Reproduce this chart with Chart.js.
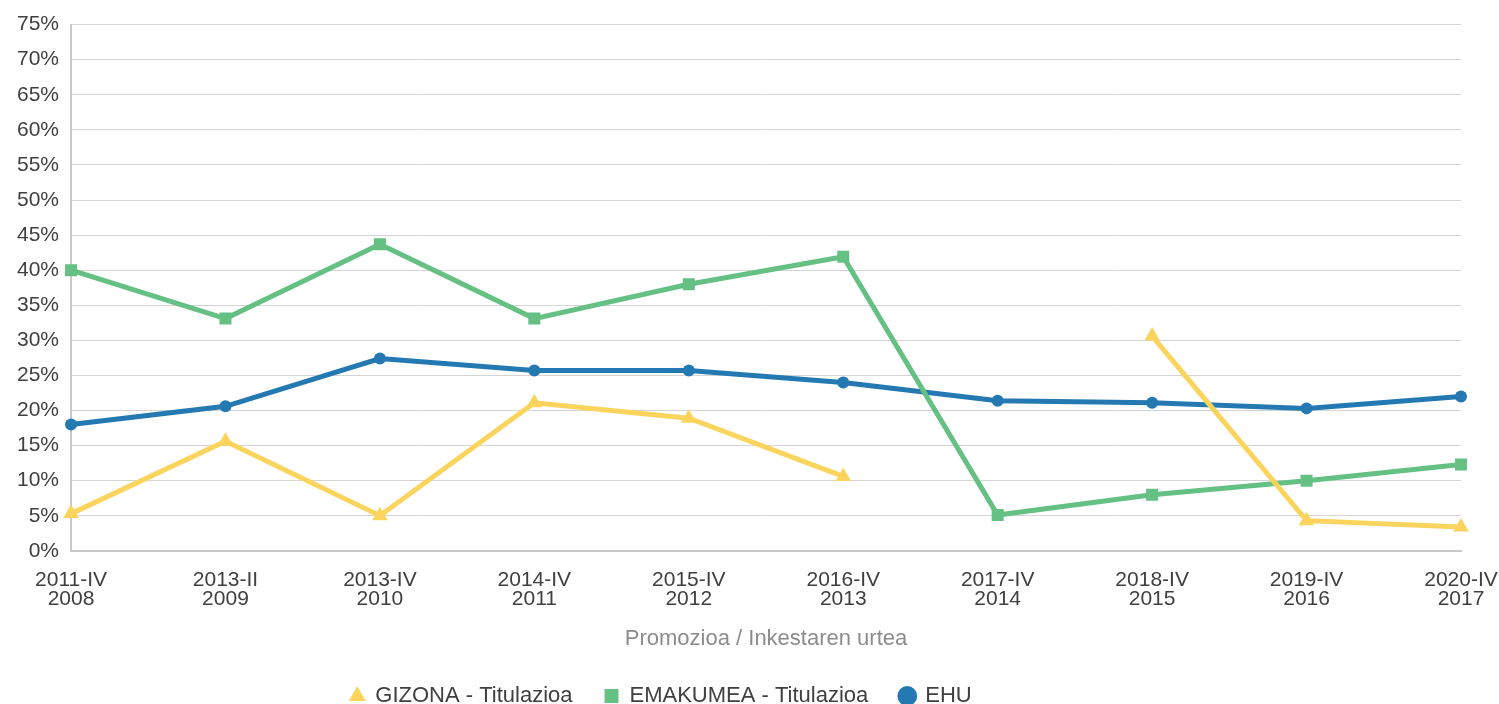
<!DOCTYPE html>
<html>
<head>
<meta charset="utf-8">
<script src="https://cdn.jsdelivr.net/npm/chart.js@4"></script>
<style>
  html, body { margin: 0; padding: 0; background: #fff; }
  #wrap { width: 1499px; height: 704px; }
</style>
</head>
<body>
<div id="wrap"><canvas id="myChart"></canvas></div>
<script>
var labels = [["2011-IV", "2008"], ["2013-II", "2009"], ["2013-IV", "2010"], ["2014-IV", "2011"], ["2015-IV", "2012"],
              ["2016-IV", "2013"], ["2017-IV", "2014"], ["2018-IV", "2015"], ["2019-IV", "2016"], ["2020-IV", "2017"]];
var gizona = [5.3, 15.6, 5.0, 21.1, 18.9, 10.6, null, 30.6, 4.3, 3.4];
var emakumea = [40.0, 33.1, 43.7, 33.1, 38.0, 41.9, 5.1, 8.0, 10.0, 12.3];
var ehu = [18.0, 20.6, 27.4, 25.7, 25.7, 24.0, 21.4, 21.1, 20.3, 22.0];

// legend in the original sits a bit left of centre
var legendShift = {
    id: 'legendShift',
    afterLayout: function (chart) {
        chart.legend.right -= 182;
    }
};

var ctx = document.getElementById("myChart");
var myChart = new Chart(ctx, {
    type: 'line',
    data: {
        labels: labels,
        datasets: [{
                label: "GIZONA - Titulazioa",
                data: gizona,
                borderColor: '#fad45c',
                backgroundColor: '#fad45c',
                borderWidth: 5,
                pointStyle: 'triangle',
                pointRadius: 9,
                pointBorderWidth: 0,
                pointHoverRadius: 9
            }, {
                label: "EMAKUMEA - Titulazioa",
                data: emakumea,
                borderColor: '#65c084',
                backgroundColor: '#65c084',
                borderWidth: 5,
                pointStyle: 'rect',
                pointRadius: 8.5,
                pointBorderWidth: 0,
                pointHoverRadius: 8.5
            }, {
                label: "EHU",
                data: ehu,
                borderColor: '#2479b2',
                backgroundColor: '#2479b2',
                borderWidth: 5,
                pointStyle: 'circle',
                pointRadius: 6,
                pointBorderWidth: 0,
                pointHoverRadius: 6
            }
        ]
    },
    plugins: [legendShift],
    options: {
        responsive: true,
        maintainAspectRatio: false,
        animation: false,
        layout: { padding: { left: 5, right: 0, top: 16, bottom: -13 } },
        elements: { line: { tension: 0 } },
        plugins: {
            legend: {
                position: 'bottom',
                labels: {
                    usePointStyle: true,
                    boxWidth: 14,
                    boxHeight: 14,
                    padding: 32,
                    color: '#404040',
                    font: { family: 'Liberation Sans', size: 22 },
                    generateLabels: function (chart) {
                        var items = Chart.defaults.plugins.legend.labels.generateLabels(chart);
                        items.forEach(function (it) { it.lineWidth = 0; });
                        return items;
                    }
                }
            },
            tooltip: { enabled: false }
        },
        scales: {
            x: {
                offset: false,
                afterFit: function (scale) { scale.paddingRight = 38; },
                grid: { display: false },
                border: { color: '#c8c8c8', width: 2 },
                ticks: {
                    color: '#404040',
                    maxRotation: 0,
                    autoSkip: false,
                    padding: 12,
                    font: { family: 'Liberation Sans', size: 21, lineHeight: 0.9 }
                },
                title: {
                    display: true,
                    text: 'Promozioa / Inkestaren urtea',
                    color: '#8c8c8c',
                    padding: { top: 5, bottom: 1 },
                    font: { family: 'Liberation Sans', size: 22 }
                }
            },
            y: {
                min: 0,
                max: 75,
                grid: { color: '#d4d4d4', lineWidth: 1, drawTicks: false },
                border: { color: '#c8c8c8', width: 2 },
                ticks: {
                    stepSize: 5,
                    color: '#404040',
                    padding: 12,
                    font: { family: 'Liberation Sans', size: 21 },
                    callback: function (v) { return v + '%'; }
                }
            }
        }
    }
});
</script>
</body>
</html>
